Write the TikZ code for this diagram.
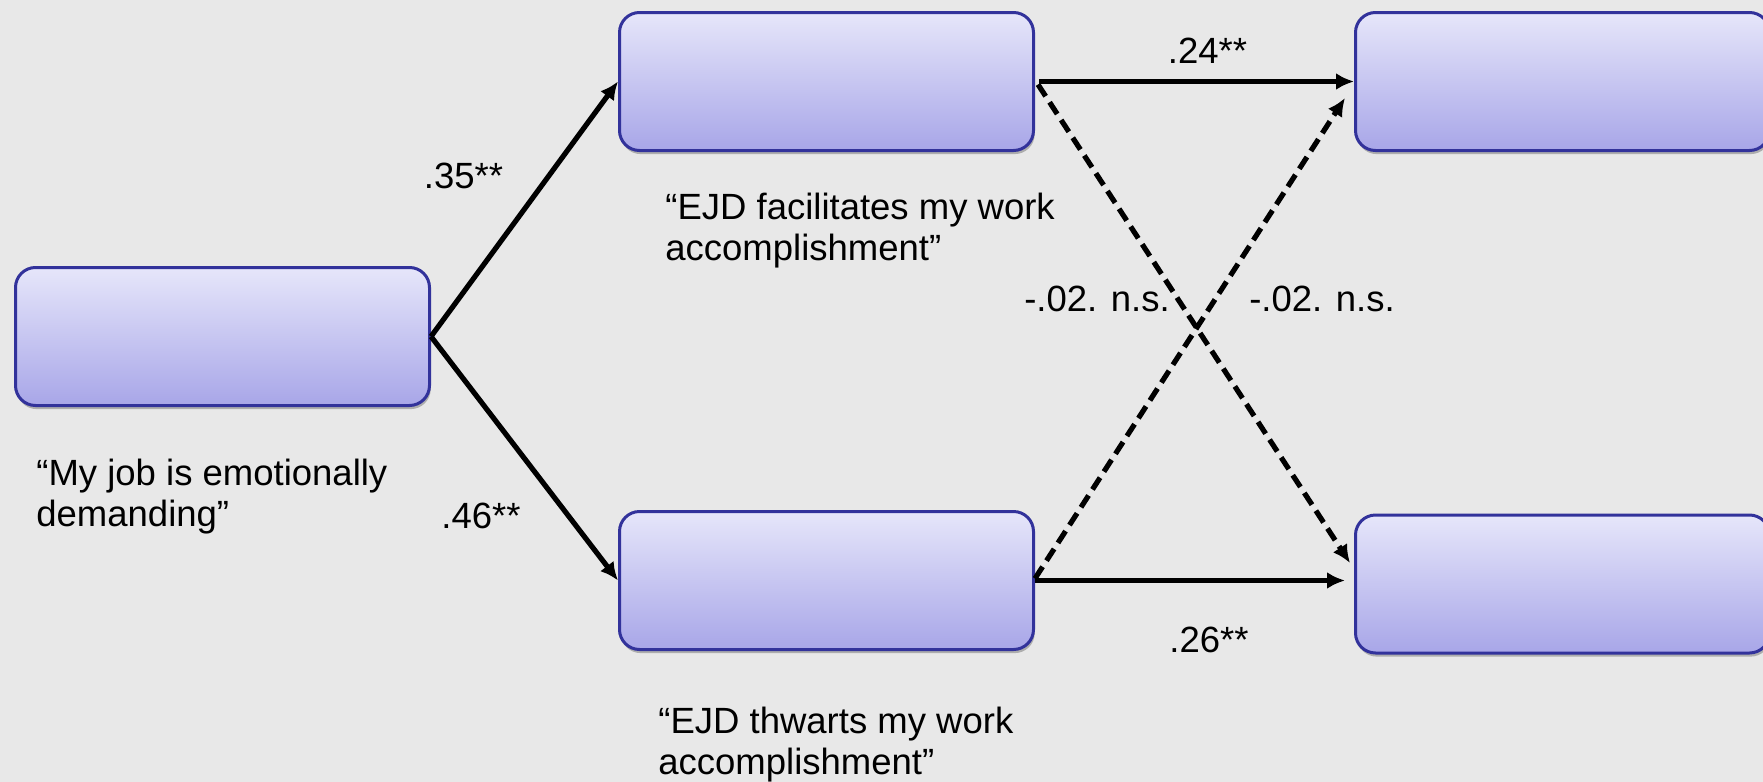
\documentclass[tikz,border=0pt]{standalone}
\usepackage{fontspec}
\setmainfont{Liberation Sans}
\usetikzlibrary{arrows.meta,shadows,calc}

\definecolor{bgray}{RGB}{232,232,232}
\definecolor{boxtop}{RGB}{230,230,250}
\definecolor{boxbot}{RGB}{168,166,232}
\definecolor{boxline}{RGB}{50,50,155}

\newcommand{\twolines}[2]{\begin{tabular}[t]{@{}l@{}}#1\\#2\end{tabular}}

\begin{document}
\begin{tikzpicture}[x=0.5pt,y=-0.5pt,
  every node/.style={font=\fontsize{18.25}{20.5}\selectfont},
  box/.style={rectangle, rounded corners=10pt, draw=boxline, line width=1.5pt,
    top color=boxtop, bottom color=boxbot,
    minimum width=207pt, minimum height=69pt, inner sep=0pt,
    drop shadow={shadow xshift=0.6pt, shadow yshift=-1.8pt, fill=black, opacity=0.25}},
  caption/.style={anchor=base west, inner sep=0pt},
  coef/.style={anchor=base, inner sep=0pt},
  path/.style={line width=2.6pt, -{Latex[length=9pt,width=8.5pt]}},
  nspath/.style={path, dash pattern=on 7pt off 3.6pt}]

  % canvas
  \useasboundingbox (0,0) rectangle (1763,782);
  \fill[bgray] (0,0) rectangle (1763,782);

  % variables
  \node[box] (job) at (222.5,336.5) {};
  \node[box] (fac) at (826.5,81.5) {};
  \node[box] (thw) at (826.5,580.5) {};
  \node[box] (outA) at (1562.5,81.5) {};
  \node[box] (outB) at (1562.5,584) {};

  % item wordings
  \node[caption] (jobtxt) at (36,485) {\twolines{“My job is emotionally}{demanding”}};
  \node[caption] (factxt) at (665,219) {\twolines{“EJD facilitates my work}{accomplishment”}};
  \node[caption] (thwtxt) at (658,733) {\twolines{“EJD thwarts my work}{accomplishment”}};

  % paths
  \draw[path] (job.east) -- (fac.west);
  \draw[path] (job.east) -- (thw.west);
  \draw[path] ($(fac.east)+(4,0)$) -- (outA.west);
  \draw[path] (thw.east) -- ($(outB.west |- thw.east)+(-9,0)$);
  \draw[nspath] ($(fac.east)+(3,3)$) -- ($(outB.west)+(-4,-21)$);
  \draw[nspath] ($(thw.east)+(0,-2)$) -- ($(outA.west)+(-9,16.5)$);

  % coefficients
  \node[coef] (c1) at (463.5,188) {.35**};
  \node[coef] (c2) at (481,528) {.46**};
  \node[coef] (c3) at (1207.5,63) {.24**};
  \node[coef] (c4) at (1209,652) {.26**};
  \node[coef] (c5) at (1097,311) {-.02. n.s.};
  \node[coef] (c6) at (1322,311) {-.02. n.s.};
\end{tikzpicture}
\end{document}
